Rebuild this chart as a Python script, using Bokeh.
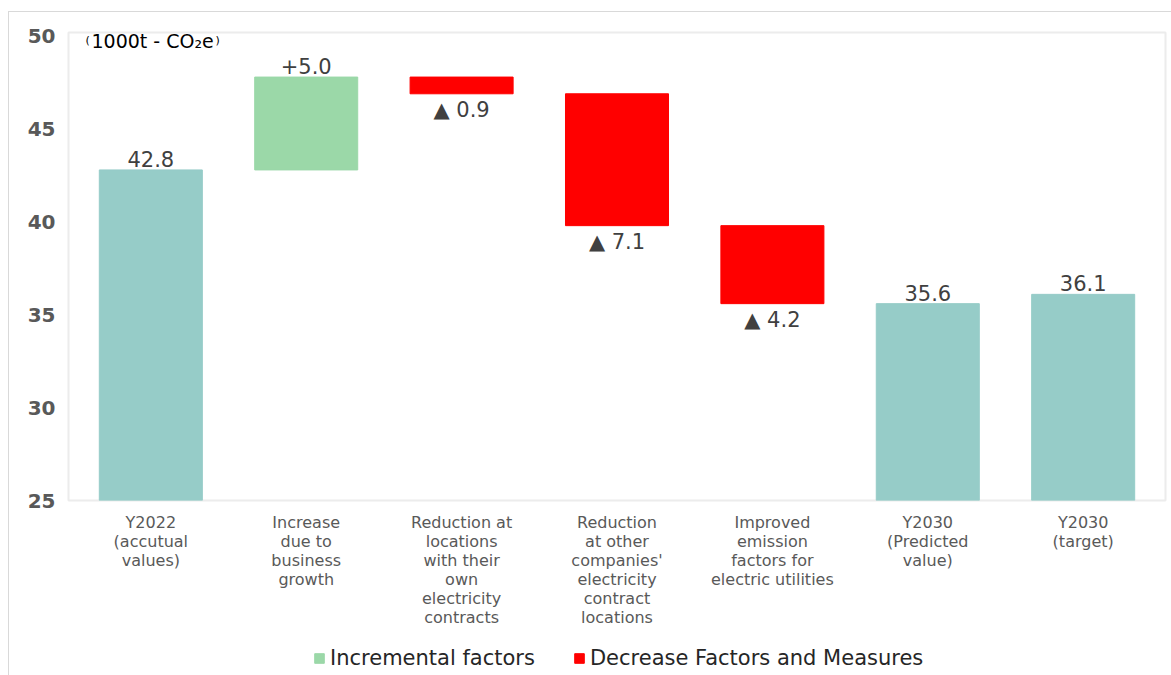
from bokeh.plotting import figure
from bokeh.layouts import column
from bokeh.models import (ColumnDataSource, FactorRange, Legend, LegendItem,
                          Label, FixedTicker)
from bokeh.embed import file_html
from bokeh.resources import INLINE

# Steps of the emissions bridge (1000t - CO2e)
categories = [
    "Y2022\n(accutual\nvalues)",
    "Increase\ndue to\nbusiness\ngrowth",
    "Reduction at\nlocations\nwith their\nown\nelectricity\ncontracts",
    "Reduction\nat other\ncompanies'\nelectricity\ncontract\nlocations",
    "Improved\nemission\nfactors for\nelectric utilities",
    "Y2030\n(Predicted\nvalue)",
    "Y2030\n(target)",
]
actual_2022 = 42.8
increase_business = 5.0
decreases = [0.9, 7.1, 4.2]
predicted_2030 = 35.6
target_2030 = 36.1

y_ticks = [25, 30, 35, 40, 45, 50]
y_floor = 25
y_ceiling = 50.2

TEAL = "#96CCC8"
GREEN = "#9BD8A8"
RED = "#FF0000"
FONT = "DejaVu Sans"

# Totals (teal) standing on the axis floor
totals = ColumnDataSource(dict(
    x=[categories[0], categories[5], categories[6]],
    top=[actual_2022, predicted_2030, target_2030],
    bottom=[y_floor] * 3,
    label=[f"{v:.1f}" for v in (actual_2022, predicted_2030, target_2030)],
))

# Increase step
inc_bottom = actual_2022
inc_top = actual_2022 + increase_business
incs = ColumnDataSource(dict(
    x=[categories[1]], bottom=[inc_bottom], top=[inc_top],
    label=[f"+{increase_business:.1f}"],
))

# Decrease steps, chained downward from the running level
dec_tops, dec_bottoms = [], []
level = inc_top
for d in decreases:
    dec_tops.append(level)
    level = level - d
    dec_bottoms.append(level)
decs = ColumnDataSource(dict(
    x=categories[2:5], top=dec_tops, bottom=dec_bottoms,
    label=[f"\u25B2 {d:.1f}" for d in decreases],
))

p = figure(
    width=1162, height=628,
    x_range=FactorRange(*categories, range_padding=0.0085),
    y_range=(y_floor, y_ceiling),
    output_backend="svg", toolbar_location=None,
    min_border_left=59, min_border_right=6,
    min_border_top=20, min_border_bottom=140,
)
p.background_fill_color = "white"
p.border_fill_color = "white"
p.outline_line_color = "#ececec"
p.outline_line_width = 2
p.xgrid.grid_line_color = None
p.ygrid.grid_line_color = None

bar_w = 0.663
p.vbar(x="x", top="top", bottom="bottom", width=bar_w, source=totals,
       fill_color=TEAL, line_color=TEAL)
p.vbar(x="x", top="top", bottom="bottom", width=bar_w, source=incs,
       fill_color=GREEN, line_color=GREEN)
p.vbar(x="x", top="top", bottom="bottom", width=bar_w, source=decs,
       fill_color=RED, line_color=RED)

# Value labels
for src in (totals, incs):
    p.text(x="x", y="top", text="label", source=src, text_align="center",
           text_baseline="bottom", y_offset=-3, text_font_size="21px",
           text_color="#404040", text_font={"value": FONT})
p.text(x="x", y="bottom", text="label", source=decs, text_align="center",
       text_baseline="top", y_offset=4, text_font_size="21px",
       text_color="#404040", text_font={"value": FONT})

# Axes
p.yaxis.ticker = FixedTicker(ticks=y_ticks)
p.yaxis.axis_line_color = None
p.yaxis.major_tick_line_color = None
p.yaxis.minor_tick_line_color = None
p.yaxis.major_tick_out = 0
p.yaxis.major_label_standoff = 13
p.yaxis.major_label_text_font = FONT
p.yaxis.major_label_text_font_style = "bold"
p.yaxis.major_label_text_font_size = "20px"
p.yaxis.major_label_text_color = "#595959"

p.xaxis.axis_line_color = None
p.xaxis.major_tick_line_color = None
p.xaxis.major_tick_out = 0
p.xaxis.major_label_standoff = 12
p.xaxis.major_label_text_font = FONT
p.xaxis.major_label_text_font_size = "16px"
p.xaxis.major_label_text_color = "#595959"
p.xaxis.major_label_text_line_height = 1.0

# Unit caption in the top-left corner of the plot area
cap_y = 460  # frame-relative, measured up from the frame bottom
p.add_layout(Label(x=17, y=cap_y, x_units="screen", y_units="screen", text="(",
                   text_font=FONT, text_font_size="11px", text_color="#000000",
                   text_baseline="middle"))
p.add_layout(Label(x=23, y=cap_y, x_units="screen", y_units="screen",
                   text="1000t - CO\u2082e", text_font=FONT, text_font_size="19px",
                   text_color="#000000", text_baseline="middle"))
p.add_layout(Label(x=147, y=cap_y, x_units="screen", y_units="screen", text=")",
                   text_font=FONT, text_font_size="11px", text_color="#000000",
                   text_baseline="middle"))

# Legend strip under the chart
leg = figure(width=1162, height=35, output_backend="svg", toolbar_location=None,
             min_border=0, x_range=(0, 1), y_range=(0, 1))
leg.axis.visible = False
leg.grid.grid_line_color = None
leg.outline_line_color = None
leg.background_fill_color = "white"
leg.border_fill_color = "white"
# key swatches; their bars sit outside the strip's visible range
key_inc = leg.vbar(x=[-5], top=[-5], width=0.1, fill_color=GREEN, line_color=GREEN)
key_dec = leg.vbar(x=[-5], top=[-5], width=0.1, fill_color=RED, line_color=RED)
legend = Legend(
    items=[LegendItem(label="Incremental factors", renderers=[key_inc]),
           LegendItem(label="Decrease Factors and Measures", renderers=[key_dec])],
    orientation="horizontal", location=(245, 5),
    glyph_width=12, glyph_height=12, label_height=24, label_standoff=5,
    spacing=38, padding=0, margin=0,
    label_text_font=FONT, label_text_font_size="21px", label_text_color="#262626",
    border_line_color=None, background_fill_alpha=0,
)
leg.add_layout(legend, "center")

# Card with a thin outline along its top and left edges
page = column(p, leg, spacing=0, margin=(11, 0, 0, 8),
              styles={"border-top": "1px solid #d9d9d9",
                      "border-left": "1px solid #d9d9d9",
                      "background-color": "white"})

open("out.html", "w").write(file_html(page, INLINE))
